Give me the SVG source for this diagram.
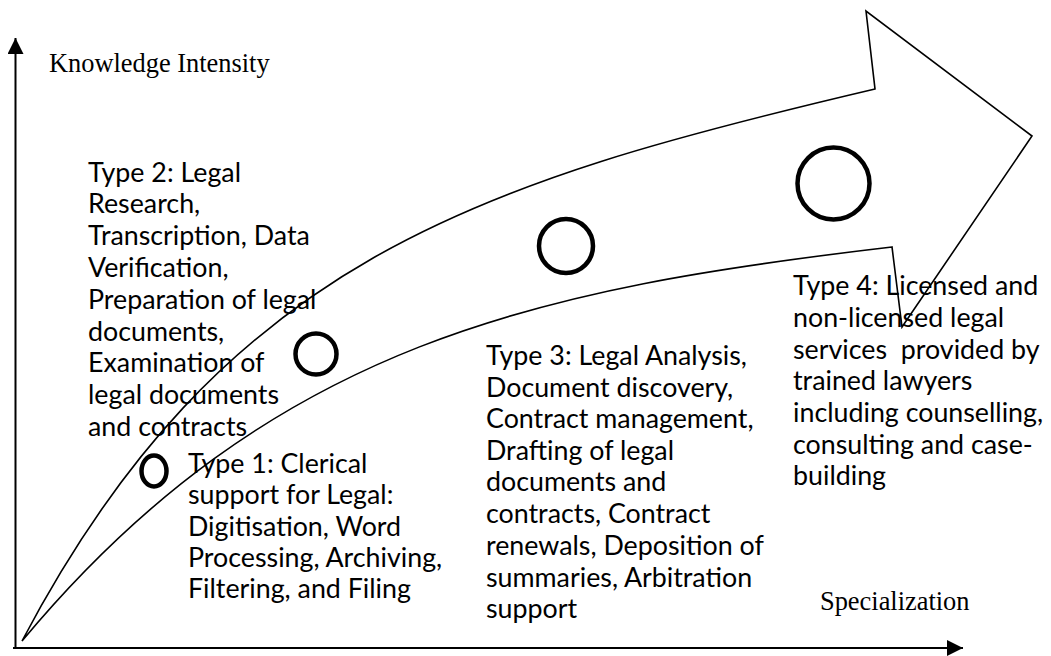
<svg xmlns="http://www.w3.org/2000/svg" width="1051" height="656" viewBox="0 0 1051 656">
  <style>
    .lbl { font-family: Lato, "Open Sans", sans-serif; font-size: 26.8px; fill: #000; }
    .axis-lbl { font-family: "Liberation Serif", "Times New Roman", serif; font-size: 26.4px; fill: #000; }
    .axis { stroke: #000; stroke-width: 2; fill: none; }
    .dot { stroke: #000; stroke-width: 4.5; fill: none; }
  </style>
  <defs>
    <marker id="head" viewBox="0 0 16 16" refX="16" refY="8" markerWidth="16" markerHeight="16" markerUnits="userSpaceOnUse" orient="auto">
      <path d="M0,0 L16,8 L0,16 Z" fill="#000"/>
    </marker>
  </defs>
  <rect width="1051" height="656" fill="#fff"/>

  <!-- axes -->
  <g id="axes">
    <path class="axis" d="M15.5,648 L15.5,38" marker-end="url(#head)"/>
    <path class="axis" d="M13,648 L963,648" marker-end="url(#head)"/>
    <text class="axis-lbl" x="49" y="72">Knowledge Intensity</text>
    <text class="axis-lbl" x="820" y="610">Specialization</text>
  </g>

  <!-- curved growth arrow -->
  <g id="growth-arrow">
    <path d="M22,641 C222,261 475,183 875,89 L866,11 L1032,136 L902,327 L892,247 C542,288 272,341 22,641 Z" fill="#fff" stroke="#000" stroke-width="1.6" stroke-linejoin="miter"/>
  </g>

  <!-- stage markers -->
  <g id="markers">
    <ellipse id="marker-1" class="dot" cx="154" cy="471" rx="12.5" ry="15.5"/>
    <circle id="marker-2" class="dot" cx="316" cy="354" r="20.5"/>
    <circle id="marker-3" class="dot" cx="566" cy="246" r="27"/>
    <circle id="marker-4" class="dot" cx="833.5" cy="183.5" r="36" stroke-width="5"/>
  </g>

  <g id="type-2">
    <text class="lbl">
      <tspan x="88" y="181.5">Type 2: Legal</tspan>
      <tspan x="88" y="213.3">Research,</tspan>
      <tspan x="88" y="245">Transcription, Data</tspan>
      <tspan x="88" y="277">Verification,</tspan>
      <tspan x="88" y="309">Preparation of legal</tspan>
      <tspan x="88" y="340.5">documents,</tspan>
      <tspan x="88" y="372.3">Examination of</tspan>
      <tspan x="88" y="404">legal documents</tspan>
      <tspan x="88" y="436">and contracts</tspan>
    </text>
  </g>

  <g id="type-1">
    <text class="lbl">
      <tspan x="188" y="473">Type 1: Clerical</tspan>
      <tspan x="188" y="504">support for Legal:</tspan>
      <tspan x="188" y="535.5">Digitisation, Word</tspan>
      <tspan x="188" y="567">Processing, Archiving,</tspan>
      <tspan x="188" y="598">Filtering, and Filing</tspan>
    </text>
  </g>

  <g id="type-3">
    <text class="lbl">
      <tspan x="486" y="365">Type 3: Legal Analysis,</tspan>
      <tspan x="486" y="396.5">Document discovery,</tspan>
      <tspan x="486" y="428">Contract management,</tspan>
      <tspan x="486" y="459.5">Drafting of legal</tspan>
      <tspan x="486" y="491">documents and</tspan>
      <tspan x="486" y="523">contracts, Contract</tspan>
      <tspan x="486" y="555">renewals, Deposition of</tspan>
      <tspan x="486" y="586.5">summaries, Arbitration</tspan>
      <tspan x="486" y="618">support</tspan>
    </text>
  </g>

  <g id="type-4">
    <text class="lbl" xml:space="preserve">
      <tspan x="793" y="295">Type 4: Licensed and</tspan>
      <tspan x="793" y="327">non-licensed legal</tspan>
      <tspan x="793" y="358.5">services  provided by</tspan>
      <tspan x="793" y="390">trained lawyers</tspan>
      <tspan x="793" y="422">including counselling,</tspan>
      <tspan x="793" y="453.5">consulting and case-</tspan>
      <tspan x="793" y="485">building</tspan>
    </text>
  </g>
</svg>
